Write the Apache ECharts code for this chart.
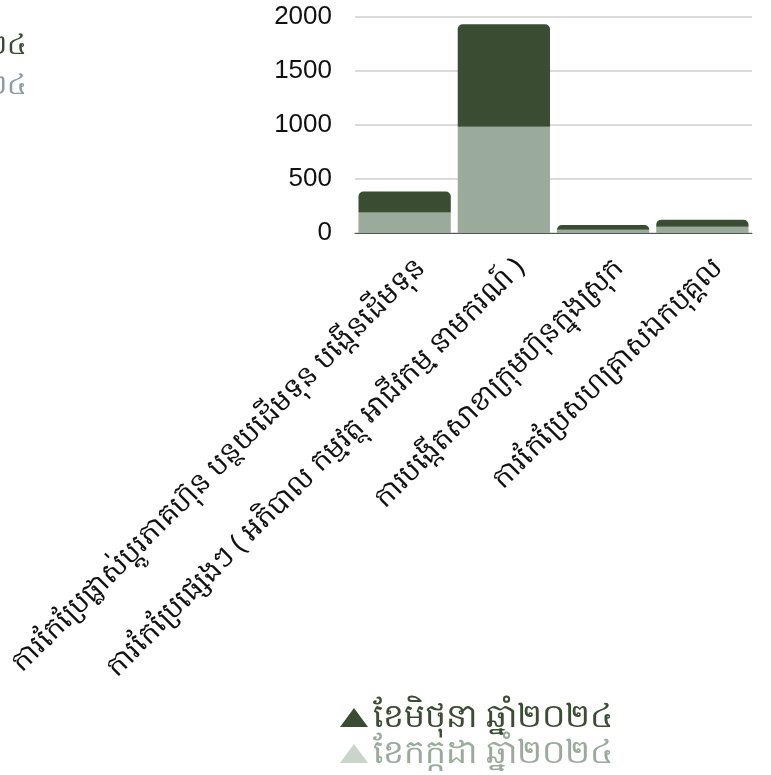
<!DOCTYPE html>
<html>
<head>
<meta charset="utf-8">
<script src="https://cdn.jsdelivr.net/npm/echarts@6/dist/echarts.min.js"></script>
<style>html,body{margin:0;padding:0;background:#fff}#c{width:771px;height:775px}</style>
</head>
<body>
<div id="c"></div>
<script>
const categories = [
  'ការកែប្រែផ្លាស់ប្តូរភាគហ៊ុន បន្ថយដើមទុន បង្កើនដើមទុន',
  'ការកែប្រែផ្សេងៗ ( អភិបាល កម្មវត្ថុ អាជីវកម្ម នាមករណ៍ )',
  'ការបង្កើតសាខាក្រុមហ៊ុនក្នុងស្រុក',
  'ការកែប្រែសហគ្រាសឯកបុគ្គល'
];
const seriesNames = ['ខែមិថុនា ឆ្នាំ២០២៤', 'ខែកក្កដា ឆ្នាំ២០២៤'];
const juneValues = [194, 949, 44, 65];
const julyValues = [190, 984, 30, 58];
const yTicks = [0, 500, 1000, 1500, 2000];

const FONT = '"Noto Sans", "DejaVu Sans", sans-serif';
const NUMFONT = '"Liberation Sans", Arial, sans-serif';
const DARK = '#3a4d33';
const LIGHT = '#9aaa9b';

const chart = echarts.init(document.getElementById('c'), null, {renderer: 'canvas'});
chart.setOption({
  animation: false,
  backgroundColor: '#fff',
  title: {
    text: seriesNames[0],
    subtext: seriesNames[1],
    left: 22,
    top: 27,
    textAlign: 'right',
    itemGap: 12,
    textStyle: {color: DARK, fontSize: 28, fontWeight: 'normal', fontFamily: FONT},
    subtextStyle: {color: '#8d9ba8', fontSize: 28, fontFamily: FONT}
  },
  legend: {
    orient: 'vertical',
    left: 340,
    top: 701,
    padding: 0,
    icon: 'triangle',
    itemWidth: 28,
    itemHeight: 19,
    itemGap: 3,
    textStyle: {fontSize: 33, lineHeight: 31, fontFamily: FONT},
    data: [
      {name: seriesNames[0], itemStyle: {color: DARK}, textStyle: {color: DARK}},
      {name: seriesNames[1], itemStyle: {color: '#c9d4cb'}, textStyle: {color: LIGHT}}
    ]
  },
  grid: {left: 355, right: 19, top: 17, bottom: 542, containLabel: false, outerBoundsMode: 'none'},
  xAxis: {
    type: 'category',
    data: categories,
    axisLine: {show: true, lineStyle: {color: '#555', width: 1}},
    axisTick: {show: false},
    axisLabel: {
      interval: 0,
      rotate: 45,
      fontSize: 28,
      color: '#111',
      fontFamily: FONT,
      margin: 14,
      verticalAlign: 'top',
      lineHeight: 46
    }
  },
  yAxis: {
    type: 'value',
    min: yTicks[0],
    max: yTicks[yTicks.length - 1],
    interval: 500,
    axisLine: {show: false},
    axisTick: {show: false},
    axisLabel: {fontSize: 26, color: '#111', fontFamily: NUMFONT, margin: 23, formatter: v => String(v)},
    splitLine: {lineStyle: {color: '#cfcfcf', width: 1.5}}
  },
  series: [
    {
      name: seriesNames[1],
      type: 'bar',
      stack: 'total',
      data: julyValues,
      barCategoryGap: '7%',
      itemStyle: {color: LIGHT}
    },
    {
      name: seriesNames[0],
      type: 'bar',
      stack: 'total',
      data: juneValues,
      barCategoryGap: '7%',
      itemStyle: {color: DARK, borderRadius: [5, 5, 0, 0]}
    }
  ]
});
</script>
</body>
</html>
